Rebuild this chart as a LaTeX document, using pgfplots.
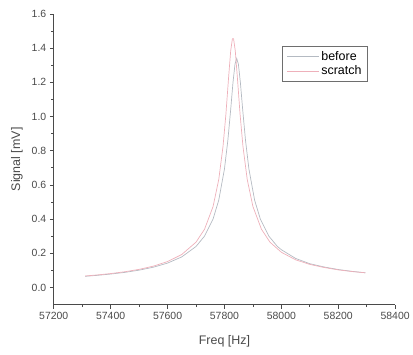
\documentclass[border=0pt]{standalone}
\usepackage{pgfplots}
\pgfplotsset{compat=1.18}
\usepackage{fontspec}
\setmainfont{Liberation Sans}
\definecolor{beforec}{HTML}{B4BAC2}
\definecolor{scratchc}{HTML}{EEB0BA}
\definecolor{axc}{HTML}{4A4A4A}
\begin{document}
\begin{tikzpicture}
\begin{axis}[
  scale only axis, width=343pt, height=292pt,
  xmin=57200, xmax=58400, ymin=-0.1, ymax=1.6,
  axis lines*=left,
  axis line style={axc, line width=0.8pt},
  every tick/.style={axc, line width=0.7pt},
  tick align=outside,
  major tick length=4pt, minor tick length=2.5pt,
  xtick={57200,57400,...,58400},
  ytick={0,0.2,...,1.6},
  minor x tick num=1, minor y tick num=1,
  scaled x ticks=false,
  /pgf/number format/assume math mode=true,
  x tick label style={/pgf/number format/1000 sep={}, /pgf/number format/fixed, font=\fontsize{10.5}{12}\selectfont, text=axc},
  y tick label style={/pgf/number format/.cd, fixed, fixed zerofill, precision=1, /tikz/.cd, font=\fontsize{10.5}{12}\selectfont, text=axc},
  xlabel={Freq [Hz]}, ylabel={Signal [mV]},
  label style={font=\fontsize{12.5}{14}\selectfont, text=axc},
  xlabel style={at={(axis description cs:0.5,-0.127)}, anchor=center},
  ylabel style={at={(axis description cs:-0.108,0.5)}, anchor=center},
  legend style={at={(0.67,0.89)}, anchor=north west, draw=axc!80, line width=0.8pt,
    font=\fontsize{12.5}{14}\selectfont, inner xsep=4pt, inner ysep=3pt, row sep=0pt},
  legend cell align=left,
]
\addplot[color=beforec, line width=0.7pt, legend image code/.code={\draw[color=beforec, line width=0.7pt] (0pt,0pt) -- (32pt,0pt);}] coordinates {
(57310,0.0653) (57350,0.0706) (57400,0.0785) (57450,0.0884) (57500,0.1013)
(57550,0.1185) (57600,0.1426) (57650,0.1789) (57700,0.2397) (57730,0.3005)
(57760,0.4006) (57780,0.511) (57800,0.693) (57812,0.861) (57822,1.042)
(57830,1.199) (57837,1.306) (57843,1.340) (57849,1.306) (57856,1.199)
(57864,1.042) (57874,0.861) (57886,0.693) (57906,0.511) (57926,0.401)
(57956,0.3005) (57986,0.240) (58000,0.221) (58050,0.170) (58100,0.139)
(58150,0.120) (58200,0.105) (58250,0.094) (58295,0.086)
};
\addlegendentry{before}
\addplot[color=scratchc, line width=0.7pt, legend image code/.code={\draw[color=scratchc, line width=0.7pt] (0pt,0pt) -- (32pt,0pt);}] coordinates {
(57310,0.0673) (57350,0.0729) (57400,0.0814) (57450,0.0920) (57500,0.1059)
(57550,0.1247) (57600,0.1515) (57650,0.1930) (57700,0.2651) (57730,0.3407)
(57760,0.4735) (57780,0.6318) (57795,0.8257) (57805,1.011) (57815,1.238)
(57822,1.385) (57828,1.455) (57832,1.455) (57838,1.385) (57845,1.238)
(57855,1.011) (57865,0.826) (57880,0.632) (57900,0.474) (57930,0.341)
(57960,0.265) (58000,0.206) (58050,0.162) (58100,0.135) (58150,0.117)
(58200,0.103) (58250,0.093) (58295,0.086)
};
\addlegendentry{scratch}
\end{axis}
\path ([xshift=-54pt,yshift=-50pt]current axis.south west) rectangle ([xshift=16pt,yshift=14pt]current axis.north east);
\end{tikzpicture}
\end{document}
